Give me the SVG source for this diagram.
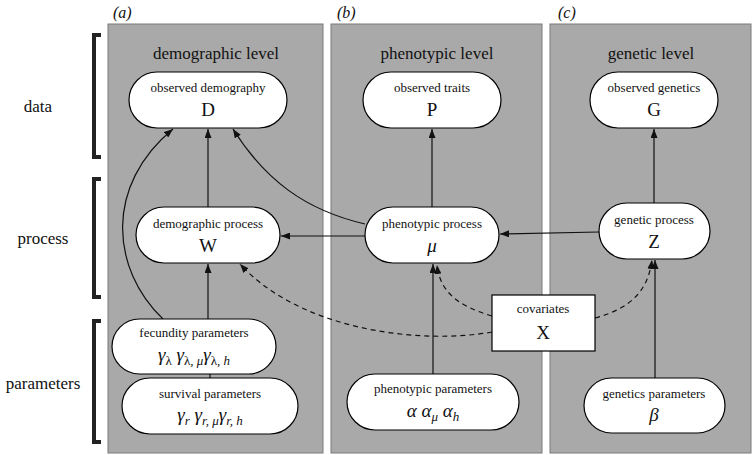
<svg xmlns="http://www.w3.org/2000/svg" width="753" height="455" viewBox="0 0 753 455">
<defs>
<style>
.panel{fill:#a9a9a9;stroke:#7a7a7a;stroke-width:1}
.node{fill:#fff;stroke:#000;stroke-width:1.2}
.t{font-family:"Liberation Serif","Times New Roman",serif;fill:#111}
.lbl{font-size:13px}
.ttl{font-size:17px}
.sym{font-size:19px}
.math{font-family:"Liberation Serif","Times New Roman",serif;font-style:italic;font-size:19px;fill:#111}
.sub{font-size:13px}
.row{font-size:17px}
.pl{font-size:16px;font-style:italic}
.edge{fill:none;stroke:#111;stroke-width:1.2}
.dash{fill:none;stroke:#111;stroke-width:1.2;stroke-dasharray:5,4}
.br{fill:none;stroke:#222;stroke-width:4}
</style>
<marker id="ah" viewBox="0 0 9 7" refX="9" refY="3.5" markerWidth="9" markerHeight="7" markerUnits="userSpaceOnUse" orient="auto">
<path d="M0,0 L9,3.5 L0,7 z" fill="#111"/>
</marker>
</defs>
<rect width="753" height="455" fill="#fff"/>

<!-- row labels and brackets -->
<g id="rowlabels">
<text class="t row" x="38" y="112" text-anchor="middle">data</text>
<text class="t row" x="43" y="244" text-anchor="middle">process</text>
<text class="t row" x="43" y="389" text-anchor="middle">parameters</text>
<path class="br" d="M101,35 H94 V157 H101"/>
<path class="br" d="M101,179 H94 V297 H101"/>
<path class="br" d="M101,321 H94 V442 H101"/>
</g>

<!-- panels -->
<g id="panel-a">
<rect class="panel" x="108" y="24" width="215" height="429"/>
<text class="t pl" x="113" y="18">(a)</text>
<text class="t ttl" x="216" y="59" text-anchor="middle">demographic level</text>
</g>
<g id="panel-b">
<rect class="panel" x="331" y="24" width="211" height="429"/>
<text class="t pl" x="337" y="18">(b)</text>
<text class="t ttl" x="437" y="59" text-anchor="middle">phenotypic level</text>
</g>
<g id="panel-c">
<rect class="panel" x="550" y="24" width="201" height="429"/>
<text class="t pl" x="558" y="18">(c)</text>
<text class="t ttl" x="651" y="59" text-anchor="middle">genetic level</text>
</g>

<!-- connectors -->
<g id="connectors">
<line class="edge" x1="208" y1="207" x2="208" y2="129" marker-end="url(#ah)"/>
<path class="edge" d="M163,319 C110,268 105,185 173,129" marker-end="url(#ah)"/>
<path class="edge" d="M365,224 C305,210 265,180 233,129" marker-end="url(#ah)"/>
<line class="edge" x1="432" y1="207" x2="432" y2="129" marker-end="url(#ah)"/>
<line class="edge" x1="654" y1="203" x2="654" y2="129" marker-end="url(#ah)"/>
<line class="edge" x1="365" y1="236" x2="281" y2="236" marker-end="url(#ah)"/>
<line class="edge" x1="599" y1="232" x2="500" y2="234" marker-end="url(#ah)"/>
<line class="edge" x1="208" y1="319" x2="208" y2="264" marker-end="url(#ah)"/>
<line class="edge" x1="210" y1="374" x2="210" y2="378"/>
<line class="edge" x1="433" y1="374" x2="433" y2="264" marker-end="url(#ah)"/>
<line class="edge" x1="655" y1="378" x2="655" y2="260" marker-end="url(#ah)"/>
<path class="dash" d="M492,332 C420,345 300,330 240,264" marker-end="url(#ah)"/>
<path class="dash" d="M492,316 C458,306 440,292 437,265" marker-end="url(#ah)"/>
<path class="dash" d="M595,318 C632,308 648,290 652,260" marker-end="url(#ah)"/>
</g>

<!-- data nodes -->
<g id="D">
<rect class="node" x="129" y="72" width="158" height="56" rx="28"/>
<text class="t lbl" x="208" y="92" text-anchor="middle">observed demography</text>
<text class="t sym" x="208" y="116" text-anchor="middle">D</text>
</g>
<g id="P">
<rect class="node" x="363" y="72" width="138" height="56" rx="28"/>
<text class="t lbl" x="432" y="92" text-anchor="middle">observed traits</text>
<text class="t sym" x="432" y="116" text-anchor="middle">P</text>
</g>
<g id="G">
<rect class="node" x="590" y="72" width="128" height="56" rx="28"/>
<text class="t lbl" x="654" y="92" text-anchor="middle">observed genetics</text>
<text class="t sym" x="654" y="116" text-anchor="middle">G</text>
</g>

<!-- process nodes -->
<g id="W">
<rect class="node" x="136" y="207" width="144" height="56" rx="28"/>
<text class="t lbl" x="208" y="228" text-anchor="middle">demographic process</text>
<text class="t sym" x="208" y="252" text-anchor="middle">W</text>
</g>
<g id="mu">
<rect class="node" x="365" y="207" width="134" height="56" rx="28"/>
<text class="t lbl" x="432" y="228" text-anchor="middle">phenotypic process</text>
<text class="math" x="432" y="252" text-anchor="middle">μ</text>
</g>
<g id="Z">
<rect class="node" x="599" y="203" width="111" height="56" rx="28"/>
<text class="t lbl" x="654" y="224" text-anchor="middle">genetic process</text>
<text class="t sym" x="654" y="248" text-anchor="middle">Z</text>
</g>

<!-- covariates -->
<g id="X">
<rect class="node" x="492" y="295" width="103" height="56"/>
<text class="t lbl" x="543" y="313" text-anchor="middle">covariates</text>
<text class="t sym" x="543" y="339" text-anchor="middle">X</text>
</g>

<!-- parameter nodes -->
<g id="fecundity">
<rect class="node" x="112" y="319" width="164" height="55" rx="27.5"/>
<text class="t lbl" x="194" y="337" text-anchor="middle">fecundity parameters</text>
<text class="math" x="194" y="361" text-anchor="middle">γ<tspan class="sub" dy="4" font-style="normal">λ</tspan><tspan dy="-4"> γ</tspan><tspan class="sub" dy="4"><tspan font-style="normal">λ</tspan>, μ</tspan><tspan dy="-4">γ</tspan><tspan class="sub" dy="4"><tspan font-style="normal">λ</tspan>, h</tspan></text>
</g>
<g id="survival">
<rect class="node" x="122" y="378" width="176" height="56" rx="28"/>
<text class="t lbl" x="210" y="398" text-anchor="middle">survival parameters</text>
<text class="math" x="210" y="421" text-anchor="middle">γ<tspan class="sub" dy="4">r</tspan><tspan dy="-4"> γ</tspan><tspan class="sub" dy="4">r, μ</tspan><tspan dy="-4">γ</tspan><tspan class="sub" dy="4">r, h</tspan></text>
</g>
<g id="phenoparams">
<rect class="node" x="347" y="374" width="172" height="56" rx="28"/>
<text class="t lbl" x="433" y="393" text-anchor="middle">phenotypic parameters</text>
<text class="math" x="433" y="417" text-anchor="middle">α  α<tspan class="sub" dy="4">μ</tspan><tspan dy="-4"> α</tspan><tspan class="sub" dy="4">h</tspan></text>
</g>
<g id="geneparams">
<rect class="node" x="584" y="378" width="141" height="55" rx="27.5"/>
<text class="t lbl" x="654" y="398" text-anchor="middle">genetics parameters</text>
<text class="math" x="654" y="421" text-anchor="middle">β</text>
</g>
</svg>
